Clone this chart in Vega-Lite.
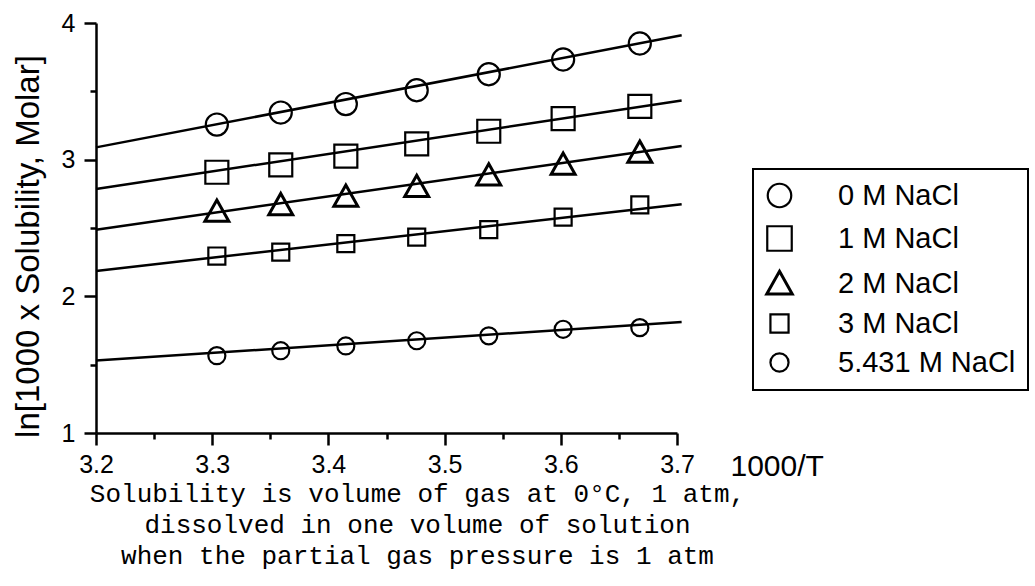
{
  "$schema": "https://vega.github.io/schema/vega-lite/v6.json",
  "width": 581,
  "height": 410,
  "autosize": "none",
  "padding": {"left": 96, "top": 23, "right": 358, "bottom": 153},
  "background": "white",
  "datasets": {
    "measured": [
      {"series": "0 M NaCl", "invT": 3.304, "lnS": 3.257},
      {"series": "0 M NaCl", "invT": 3.359, "lnS": 3.345},
      {"series": "0 M NaCl", "invT": 3.415, "lnS": 3.407},
      {"series": "0 M NaCl", "invT": 3.476, "lnS": 3.508},
      {"series": "0 M NaCl", "invT": 3.538, "lnS": 3.625},
      {"series": "0 M NaCl", "invT": 3.602, "lnS": 3.733},
      {"series": "0 M NaCl", "invT": 3.668, "lnS": 3.850},
      {"series": "1 M NaCl", "invT": 3.304, "lnS": 2.908},
      {"series": "1 M NaCl", "invT": 3.359, "lnS": 2.962},
      {"series": "1 M NaCl", "invT": 3.415, "lnS": 3.026},
      {"series": "1 M NaCl", "invT": 3.476, "lnS": 3.115},
      {"series": "1 M NaCl", "invT": 3.538, "lnS": 3.208},
      {"series": "1 M NaCl", "invT": 3.602, "lnS": 3.300},
      {"series": "1 M NaCl", "invT": 3.668, "lnS": 3.390},
      {"series": "2 M NaCl", "invT": 3.304, "lnS": 2.621},
      {"series": "2 M NaCl", "invT": 3.359, "lnS": 2.669},
      {"series": "2 M NaCl", "invT": 3.415, "lnS": 2.730},
      {"series": "2 M NaCl", "invT": 3.476, "lnS": 2.802},
      {"series": "2 M NaCl", "invT": 3.538, "lnS": 2.886},
      {"series": "2 M NaCl", "invT": 3.602, "lnS": 2.964},
      {"series": "2 M NaCl", "invT": 3.668, "lnS": 3.052},
      {"series": "3 M NaCl", "invT": 3.304, "lnS": 2.295},
      {"series": "3 M NaCl", "invT": 3.359, "lnS": 2.324},
      {"series": "3 M NaCl", "invT": 3.415, "lnS": 2.386},
      {"series": "3 M NaCl", "invT": 3.476, "lnS": 2.433},
      {"series": "3 M NaCl", "invT": 3.538, "lnS": 2.488},
      {"series": "3 M NaCl", "invT": 3.602, "lnS": 2.580},
      {"series": "3 M NaCl", "invT": 3.668, "lnS": 2.669},
      {"series": "5.431 M NaCl", "invT": 3.304, "lnS": 1.566},
      {"series": "5.431 M NaCl", "invT": 3.359, "lnS": 1.602},
      {"series": "5.431 M NaCl", "invT": 3.415, "lnS": 1.637},
      {"series": "5.431 M NaCl", "invT": 3.476, "lnS": 1.675},
      {"series": "5.431 M NaCl", "invT": 3.538, "lnS": 1.711},
      {"series": "5.431 M NaCl", "invT": 3.602, "lnS": 1.759},
      {"series": "5.431 M NaCl", "invT": 3.668, "lnS": 1.771}
    ],
    "fits": [
      {"series": "0 M NaCl", "invT": 3.2, "lnS": 3.09},
      {"series": "0 M NaCl", "invT": 3.704, "lnS": 3.91},
      {"series": "1 M NaCl", "invT": 3.2, "lnS": 2.785},
      {"series": "1 M NaCl", "invT": 3.704, "lnS": 3.433},
      {"series": "2 M NaCl", "invT": 3.2, "lnS": 2.488},
      {"series": "2 M NaCl", "invT": 3.704, "lnS": 3.10},
      {"series": "3 M NaCl", "invT": 3.2, "lnS": 2.186},
      {"series": "3 M NaCl", "invT": 3.704, "lnS": 2.674},
      {"series": "5.431 M NaCl", "invT": 3.2, "lnS": 1.53},
      {"series": "5.431 M NaCl", "invT": 3.704, "lnS": 1.812}
    ]
  },
  "title": {
    "text": [
      "Solubility is volume of gas at 0°C, 1 atm,",
      "dissolved in one volume of solution",
      "when the partial gas pressure is 1 atm"
    ],
    "orient": "bottom",
    "anchor": "middle",
    "frame": "group",
    "font": "Liberation Mono",
    "fontSize": 26,
    "fontWeight": "normal",
    "color": "black",
    "lineHeight": 31,
    "offset": 0,
    "dx": 31
  },
  "layer": [
    {
      "data": {"name": "fits"},
      "mark": {"type": "line", "color": "black", "strokeWidth": 2.5, "clip": false},
      "encoding": {
        "x": {"field": "invT", "type": "quantitative"},
        "y": {"field": "lnS", "type": "quantitative"},
        "detail": {"field": "series"}
      }
    },
    {
      "data": {"name": "measured"},
      "mark": {"type": "point", "filled": false, "color": "black", "opacity": 1, "size": 529},
      "encoding": {
        "x": {
          "field": "invT",
          "type": "quantitative",
          "scale": {"domain": [3.2, 3.7], "nice": false, "zero": false},
          "axis": {
            "values": [3.2, 3.25, 3.3, 3.35, 3.4, 3.45, 3.5, 3.55, 3.6, 3.65, 3.7],
            "format": ".1f",
            "labelExpr": "abs(datum.value * 10 - round(datum.value * 10)) < 0.001 ? datum.label : ''",
            "tickSize": {"condition": {"test": "abs(datum.value * 10 - round(datum.value * 10)) < 0.001", "value": 12}, "value": 6},
            "labelPadding": 7,
            "labelFontSize": 25,
            "labelFlush": false,
            "labelOverlap": false,
            "title": "1000/T",
            "titleX": 634,
            "titleY": 42,
            "titleAlign": "left",
            "titleBaseline": "alphabetic",
            "titleFontSize": 30,
            "titleFontWeight": "normal"
          }
        },
        "y": {
          "field": "lnS",
          "type": "quantitative",
          "scale": {"domain": [1, 4], "nice": false, "zero": false},
          "axis": {
            "values": [1, 1.5, 2, 2.5, 3, 3.5, 4],
            "format": ".0f",
            "labelExpr": "datum.value % 1 === 0 ? datum.label : ''",
            "tickSize": {"condition": {"test": "datum.value % 1 === 0", "value": 12}, "value": 6},
            "labelPadding": 9,
            "labelFontSize": 25,
            "labelFlush": false,
            "labelOverlap": false,
            "title": "ln[1000 x Solubility, Molar]",
            "titleAngle": -90,
            "titleX": -58,
            "titleY": 223,
            "titleAlign": "center",
            "titleBaseline": "alphabetic",
            "titleFontSize": 33,
            "titleFontWeight": "normal"
          }
        },
        "shape": {
          "field": "series",
          "type": "nominal",
          "scale": {
            "domain": ["0 M NaCl", "1 M NaCl", "2 M NaCl", "3 M NaCl", "5.431 M NaCl"],
            "range": [
              "M-0.96,0A0.96,0.96,0,1,0,0.96,0A0.96,0.96,0,1,0,-0.96,0Z",
              "M-1,-1H1V1H-1Z",
              "M0,-1L1.04,0.85H-1.04Z",
              "M-0.74,-0.74H0.74V0.74H-0.74Z",
              "M-0.74,0A0.74,0.74,0,1,0,0.74,0A0.74,0.74,0,1,0,-0.74,0Z"
            ]
          },
          "legend": {
            "title": null,
            "orient": "none",
            "legendX": 657,
            "legendY": 146,
            "padding": 12,
            "rowPadding": 9,
            "labelOffset": 44,
            "labelFont": "Liberation Sans",
            "labelFontSize": 29,
            "labelColor": "black",
            "labelLimit": 400,
            "strokeColor": "black",
            "symbolSize": 600,
            "symbolStrokeColor": "black",
            "symbolStrokeWidth": 2.3
          }
        },
        "strokeWidth": {
          "field": "series",
          "type": "nominal",
          "scale": {
            "type": "ordinal",
            "domain": ["0 M NaCl", "1 M NaCl", "2 M NaCl", "3 M NaCl", "5.431 M NaCl"],
            "range": [2.2, 2.2, 3, 2.2, 2.2]
          },
          "legend": {
            "title": null,
            "orient": "none",
            "legendX": 657,
            "legendY": 146,
            "padding": 12,
            "rowPadding": 9,
            "labelOffset": 44,
            "labelFont": "Liberation Sans",
            "labelFontSize": 29,
            "labelColor": "black",
            "labelLimit": 400,
            "strokeColor": "black",
            "symbolSize": 600,
            "symbolStrokeColor": "black"
          }
        }
      }
    }
  ],
  "config": {
    "font": "Liberation Sans",
    "view": {"stroke": null},
    "legend": {"strokeWidth": 2},
    "axis": {
      "grid": false,
      "domainColor": "black",
      "domainWidth": 2.5,
      "tickColor": "black",
      "tickWidth": 2.5,
      "labelColor": "black",
      "titleColor": "black",
      "labelFont": "Liberation Sans",
      "titleFont": "Liberation Sans"
    }
  }
}
